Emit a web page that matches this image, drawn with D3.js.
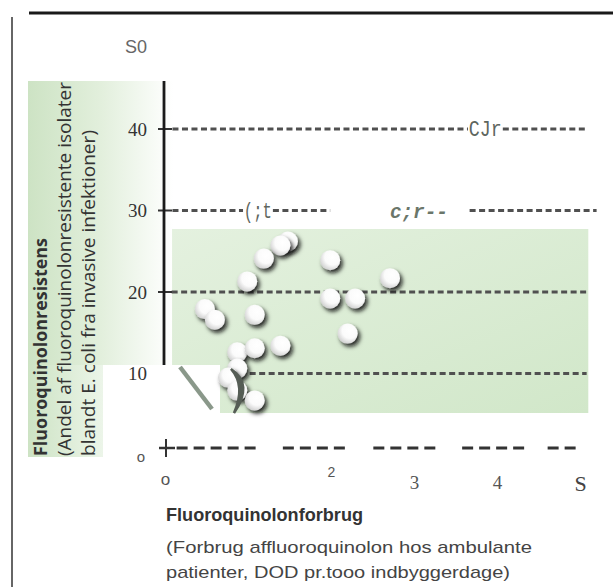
<!DOCTYPE html>
<html><head><meta charset="utf-8">
<script src="https://cdn.jsdelivr.net/npm/d3@7"></script>
<style>body{margin:0;background:#fff}svg{display:block}</style>
</head><body><svg id="c" width="613" height="587"></svg>
<script>
// ---- data ----
const consumption = [1.48,1.39,1.19,1.99,0.99,2.71,0.48,0.60,1.08,1.99,2.29,2.20,0.87,1.08,1.39,0.87,0.76,0.87,1.08];
const resistance  = [26.2,25.7,24.1,23.9,21.3,21.7,17.9,16.6,17.2,19.2,19.2,14.9,12.6,13.1,13.4,10.6,9.5,7.9,6.7];
const xTicks = [0,2,3,4,5];
const xTickLabels = ["o","2","3","4","S"];
const yTicks = [0,10,20,30,40,50];
const yTickLabels = ["o","10","20","30","40","S0"];
// gridline segments [value, from, to] in data units
const gridSegments = [[40,0.09,3.65],[40,4.07,5.08],[30,0.09,0.94],[30,1.30,1.99],[30,3.67,5.2],[20,0.08,5.08],[10,1.02,5.08]];
const gridTexts = [[40,3.66,"CJr"],[30,0.95,"(;t"]];
const gridTextItalic = [[30,2.71,"c;r--"]];
const zeroGroups = [[0.14,1.14],[1.42,2.19],[2.51,3.29],[3.58,4.35],[4.61,5.0]];
const yTitle = ["Fluoroquinolonresistens","(Andel af fluoroquinolonresistente isolater","blandt E. coli fra invasive infektioner)"];
const xTitle = ["Fluoroquinolonforbrug","(Forbrug affluoroquinolon hos ambulante","patienter, DOD pr.tooo indbyggerdage)"];

const svg = d3.select("#c");
const x = d3.scaleLinear().domain([0,5]).range([165,580]);
const y = d3.scaleLinear().domain([0,50]).range([455,47.5]);

const defs = svg.append("defs");
const lg = defs.append("linearGradient").attr("id","lg").attr("x1","0").attr("x2","1").attr("y1","0").attr("y2","0");
lg.append("stop").attr("offset","0").attr("stop-color","#cde3c4");
lg.append("stop").attr("offset","0.5").attr("stop-color","#e2efdc");
lg.append("stop").attr("offset","1").attr("stop-color","#ffffff");
const lg2 = defs.append("linearGradient").attr("id","lg2").attr("x1","0").attr("x2","1").attr("y1","0").attr("y2","0");
lg2.append("stop").attr("offset","0").attr("stop-color","#cde3c4");
lg2.append("stop").attr("offset","1").attr("stop-color","#ecf5e9");
const gg = defs.append("linearGradient").attr("id","gg").attr("x1","0").attr("x2","1").attr("y1","0").attr("y2","1");
gg.append("stop").attr("offset","0").attr("stop-color","#e4f1df");
gg.append("stop").attr("offset","1").attr("stop-color","#d1e7c9");
const rg = defs.append("radialGradient").attr("id","rg").attr("cx","0.62").attr("cy","0.35").attr("r","0.65");
rg.append("stop").attr("offset","0").attr("stop-color","#ffffff");
rg.append("stop").attr("offset","0.6").attr("stop-color","#fbfbfb");
rg.append("stop").attr("offset","1").attr("stop-color","#d6d6d6");
const f = defs.append("filter").attr("id","sh").attr("x","-50%").attr("y","-50%").attr("width","200%").attr("height","200%");
f.append("feDropShadow").attr("dx",2.5).attr("dy",3).attr("stdDeviation",2.2).attr("flood-color","#111").attr("flood-opacity",0.9);

// frame lines
svg.append("line").attr("x1",29).attr("x2",613).attr("y1",13).attr("y2",13).attr("stroke","#1a1a1a").attr("stroke-width",3);
svg.append("line").attr("x1",12).attr("x2",12).attr("y1",17).attr("y2",587).attr("stroke","#333").attr("stroke-width",1.5);

// left green panel
svg.append("rect").attr("x",28).attr("y",81).attr("width",145).attr("height",284).attr("fill","url(#lg)");
svg.append("rect").attr("x",28).attr("y",365).attr("width",75).attr("height",92).attr("fill","url(#lg2)");

// main green box
svg.append("rect").attr("x",x(0.085)).attr("y",229).attr("width",x(5.1)-x(0.085)).attr("height",184).attr("fill","url(#gg)");
// white cut-out
svg.append("rect").attr("x",103).attr("y",365).attr("width",117).attr("height",48).attr("fill","#fff");

// gridlines
svg.append("g").selectAll("line").data(gridSegments).join("line")
  .attr("x1",d=>x(d[1])).attr("x2",d=>x(d[2])).attr("y1",d=>y(d[0])).attr("y2",d=>y(d[0]))
  .attr("stroke","#505050").attr("stroke-width",2.8).attr("stroke-dasharray","6,3.5");
svg.append("g").selectAll("text").data(gridTexts).join("text")
  .attr("x",d=>x(d[1])).attr("y",d=>y(d[0])+7).text(d=>d[2])
  .attr("font-family","Liberation Mono, DejaVu Sans Mono, monospace").attr("font-size",22).attr("fill","#5e665e")
  .attr("textLength",d=>d[2]==="CJr"?33:28).attr("lengthAdjust","spacingAndGlyphs");
svg.append("g").selectAll("text").data(gridTextItalic).join("text")
  .attr("x",d=>x(d[1])).attr("y",d=>y(d[0])+7).text(d=>d[2])
  .attr("font-family","Liberation Mono, DejaVu Sans Mono, monospace").attr("font-size",21).attr("font-style","italic").attr("font-weight","bold").attr("fill","#6a766a")
  .attr("textLength",58).attr("lengthAdjust","spacingAndGlyphs");

// y ticks (+)
svg.append("g").selectAll("line").data([20,30,40]).join("line")
  .attr("x1",158).attr("x2",172).attr("y1",d=>y(d)).attr("y2",d=>y(d)).attr("stroke","#333").attr("stroke-width",2);

// zero row
const zy = y(0)-7;
svg.append("g").selectAll("line").data(zeroGroups).join("line")
  .attr("x1",d=>x(d[0])).attr("x2",d=>x(d[1])).attr("y1",zy).attr("y2",zy)
  .attr("stroke","#333").attr("stroke-width",3).attr("stroke-dasharray","11,6");
svg.append("line").attr("x1",x(0)+1).attr("x2",x(0)+1).attr("y1",zy-9).attr("y2",zy+9).attr("stroke","#333").attr("stroke-width",2);
svg.append("line").attr("x1",x(0)-6).attr("x2",x(0)+10).attr("y1",zy).attr("y2",zy).attr("stroke","#333").attr("stroke-width",2.5);

// y axis line
svg.append("line").attr("x1",x(0)-1).attr("x2",x(0)-1).attr("y1",81).attr("y2",365).attr("stroke","#1a1a1a").attr("stroke-width",2.8);

// diagonal stroke
svg.append("line").attr("x1",180).attr("y1",367).attr("x2",212).attr("y2",409).attr("stroke","#8a988a").attr("stroke-width",4.5);

// points
svg.append("g").selectAll("circle").data(consumption.map((c,i)=>[c,resistance[i]])).join("circle")
  .attr("cx",d=>x(d[0])).attr("cy",d=>y(d[1])).attr("r",10)
  .attr("fill","url(#rg)").attr("filter","url(#sh)");

// dark curve fragment
svg.append("path").attr("d","M231,369 Q254,384 234,413 Q246,386 231,369 Z")
  .attr("fill","#555d55").attr("stroke","#555d55").attr("stroke-width",2.5);

// y tick labels
const yStyle = i => i===0 ? {ff:"Liberation Sans, Arial, sans-serif",fs:15,c:"#555"} :
               i===5 ? {ff:"Liberation Sans, Arial, sans-serif",fs:18,c:"#666"} :
                       {ff:"Liberation Serif, DejaVu Serif, serif",fs:19,c:"#333"};
const yAxis = d3.axisLeft(y).tickValues(yTicks).tickFormat((d,i)=>yTickLabels[i]).tickSize(0).tickPadding(0);
const ya = svg.append("g").attr("transform","translate(147,0)").call(yAxis);
ya.select(".domain").remove();
ya.selectAll(".tick text").each(function(d,i){
  const s=yStyle(i);
  d3.select(this).attr("font-family",s.ff).attr("font-size",s.fs).attr("fill",s.c)
    .attr("dy", i===0? "0.0em" : "0.32em");
});
ya.selectAll(".tick").filter((d,i)=>i===5).attr("transform","translate(0,47)");
ya.selectAll(".tick").filter((d,i)=>i===0).attr("transform","translate(-2,462)");

// x tick labels
const xStyle = i => i===0 ? {ff:"Liberation Sans, Arial, sans-serif",fs:17,c:"#555",dy:485} :
               i===1 ? {ff:"Liberation Sans, Arial, sans-serif",fs:14,c:"#555",dy:477} :
               i===4 ? {ff:"Liberation Serif, DejaVu Serif, serif",fs:22,c:"#444",dy:491} :
                       {ff:"Liberation Serif, DejaVu Serif, serif",fs:19,c:"#555",dy:489};
const xAxis = d3.axisBottom(x).tickValues(xTicks).tickFormat((d,i)=>xTickLabels[i]).tickSize(0).tickPadding(0);
const xa = svg.append("g").call(xAxis);
xa.select(".domain").remove();
xa.selectAll(".tick text").each(function(d,i){
  const s=xStyle(i);
  d3.select(this).attr("font-family",s.ff).attr("font-size",s.fs).attr("fill",s.c).attr("y",s.dy).attr("dy",0).attr("text-anchor","middle");
});

// y title
const yt = svg.append("g").attr("transform","translate(0,456) rotate(-90)");
const yLens=[218,374,326], yBase=[47,71,95];
yTitle.forEach((t,i)=>{
  yt.append("text").attr("x",0).attr("y",yBase[i]).text(t)
    .attr("font-family","Open Sans, Noto Sans, sans-serif").attr("font-size",18)
    .attr("font-weight",i===0?"bold":"normal").attr("fill","#333")
    .attr("textLength",yLens[i]).attr("lengthAdjust","spacingAndGlyphs");
});

// x title
const xLens=[197,366,344], xBase=[521,553,578];
xTitle.forEach((t,i)=>{
  svg.append("text").attr("x",166).attr("y",xBase[i]).text(t)
    .attr("font-family","Liberation Sans, Arial, sans-serif").attr("font-size",i===0?18:17)
    .attr("font-weight",i===0?"bold":"normal").attr("fill",i===0?"#333":"#444")
    .attr("textLength",xLens[i]).attr("lengthAdjust","spacingAndGlyphs");
});
</script></body></html>
